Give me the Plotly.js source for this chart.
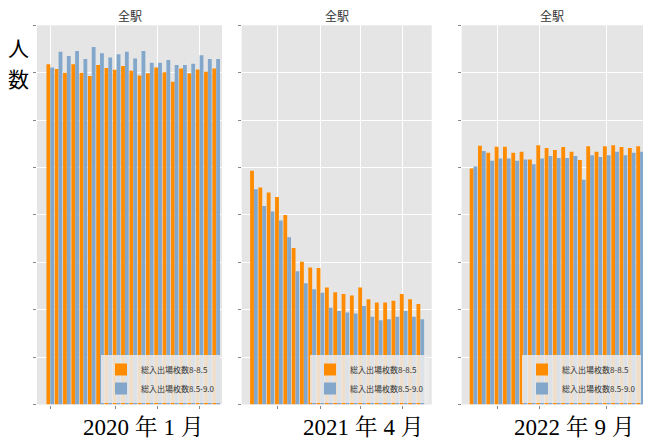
<!DOCTYPE html>
<html>
<head>
<meta charset="utf-8">
<script src="https://cdn.plot.ly/plotly-3.0.1.min.js"></script>
<style>html,body{margin:0;padding:0;background:#fff;}#chart{width:648px;height:441px;}</style>
</head>
<body>
<div id="chart"></div>
<script>
// day index within each month panel
const days = [0,1,2,3,4,5,6,7,8,9,10,11,12,13,14,15,16,17,18,19,20];

const seriesNames = ["総入出場枚数8-8.5", "総入出場枚数8.5-9.0"];
const panelTitle = "全駅";
const monthLabels = ["2020 年 1 月", "2021 年 4 月", "2022 年 9 月"];
const yLabel = "人数";

// 2020-01
const jan2020_a = [7.18,7.08,7.00,7.18,7.00,6.93,7.16,7.10,7.06,7.14,7.04,6.94,6.99,7.11,7.01,6.81,7.09,6.99,7.07,7.02,7.09];
const jan2020_b = [7.11,7.44,7.35,7.46,7.29,7.54,7.41,7.32,7.39,7.44,7.30,7.46,7.21,7.21,7.27,7.16,7.16,7.19,7.37,7.29,7.29];
// 2021-04
const apr2021_a = [4.93,4.58,4.47,4.38,4.00,3.30,3.01,2.89,2.88,2.47,2.37,2.33,2.30,2.47,2.22,2.15,2.15,2.19,2.33,2.22,2.12];
const apr2021_b = [4.54,4.19,4.07,3.88,3.53,2.81,2.56,2.43,2.36,2.04,1.97,1.94,1.92,2.08,1.85,1.78,1.80,1.85,1.97,1.85,1.80];
// 2022-09
const sep2022_a = [4.98,5.46,5.31,5.44,5.44,5.31,5.33,5.17,5.47,5.41,5.37,5.43,5.33,5.16,5.45,5.33,5.45,5.47,5.43,5.41,5.45];
const sep2022_b = [5.02,5.35,5.14,5.19,5.19,5.14,5.17,5.07,5.19,5.24,5.20,5.20,5.24,4.74,5.26,5.22,5.26,5.33,5.26,5.31,5.33];

const panels = [
  {a: jan2020_a, b: jan2020_b, grid: [0, 7.83, 12.89, 17.95], range: [-1.6, 20.7], dom: [37, 222], leg: 220},
  {a: apr2021_a, b: apr2021_b, grid: [2.86, 8.03, 12.87, 17.84], range: [-1.47, 21.37], dom: [241.7, 431.7], leg: 429},
  {a: sep2022_a, b: sep2022_b, grid: [2.9, 7.9, 16.0], range: [-1.42, 20.35], dom: [461.7, 643], leg: 641}
];

const W = 648, H = 441;
const orange = "#ff8c00", blue = "#82a7cb";
const yDom = [1 - 404.5 / H, 1 - 25.3 / H];

const traces = [];
const layout = {
  width: W, height: H,
  margin: {l: 0, r: 0, t: 0, b: 0},
  paper_bgcolor: "#ffffff",
  plot_bgcolor: "#e5e5e5",
  barmode: "group",
  bargap: 0.08,
  bargroupgap: 0,
  font: {family: "Noto Sans CJK JP, DejaVu Sans, sans-serif", size: 9, color: "#333"},
  annotations: [],
  showlegend: true
};

panels.forEach((p, i) => {
  const n = i === 0 ? "" : String(i + 1);
  const xa = "x" + n, ya = "y" + n;
  const legName = "legend" + n;
  traces.push({type: "bar", x: days, y: p.a, name: seriesNames[0], xaxis: xa, yaxis: ya,
    marker: {color: orange, line: {width: 0}}, legend: legName});
  traces.push({type: "bar", x: days, y: p.b, name: seriesNames[1], xaxis: xa, yaxis: ya,
    marker: {color: blue, line: {width: 0}}, legend: legName});
  layout["xaxis" + n] = {
    domain: [p.dom[0] / W, p.dom[1] / W], anchor: ya, range: p.range,
    tickmode: "array", tickvals: p.grid, showticklabels: false,
    ticks: "outside", ticklen: 3, tickcolor: "#888", tickwidth: 1,
    showgrid: true, gridcolor: "#ffffff", gridwidth: 1, zeroline: false, showline: false
  };
  layout["yaxis" + n] = {
    domain: yDom, anchor: xa, range: [0, 8],
    tick0: 0, dtick: 1, showticklabels: false,
    ticks: "outside", ticklen: 3, tickcolor: "#888", tickwidth: 1,
    showgrid: true, gridcolor: "#ffffff", gridwidth: 1, zeroline: false, showline: false
  };
  layout[legName] = {
    x: p.leg / W, y: 1 - 403 / H, xanchor: "right", yanchor: "bottom",
    bgcolor: "rgba(236,236,236,0.85)", borderwidth: 0,
    font: {size: 8, color: "#333"}, tracegroupgap: 0, itemwidth: 30
  };
  layout.annotations.push({
    text: panelTitle, xref: "paper", yref: "paper",
    x: (p.dom[0] + p.dom[1]) / 2 / W, y: 1 - 16 / H, xanchor: "center", yanchor: "middle",
    showarrow: false, font: {size: 12, color: "#333", family: "Noto Sans CJK JP, sans-serif"}
  });
});

// month labels beneath panels
const labelX = [143, 363, 574];
monthLabels.forEach((t, i) => {
  layout.annotations.push({
    text: t, xref: "paper", yref: "paper", x: labelX[i] / W, y: 1 - 427 / H,
    xanchor: "center", yanchor: "middle", showarrow: false,
    font: {size: 23, color: "#000", family: "Liberation Serif, Noto Serif CJK JP, Noto Sans CJK JP, serif"}
  });
});

// y label stacked vertically, one character per annotation
const yLabelY = [47, 78];
yLabel.split("").forEach((ch, k) => {
  layout.annotations.push({
    text: ch, xref: "paper", yref: "paper", borderpad: 0,
    x: 18 / W, y: 1 - yLabelY[k] / H, xanchor: "center", yanchor: "middle", showarrow: false,
    font: {size: 21, color: "#000", family: "Noto Sans CJK JP, sans-serif"}
  });
});

Plotly.newPlot("chart", traces, layout, {displayModeBar: false, staticPlot: true});
</script>
</body>
</html>
